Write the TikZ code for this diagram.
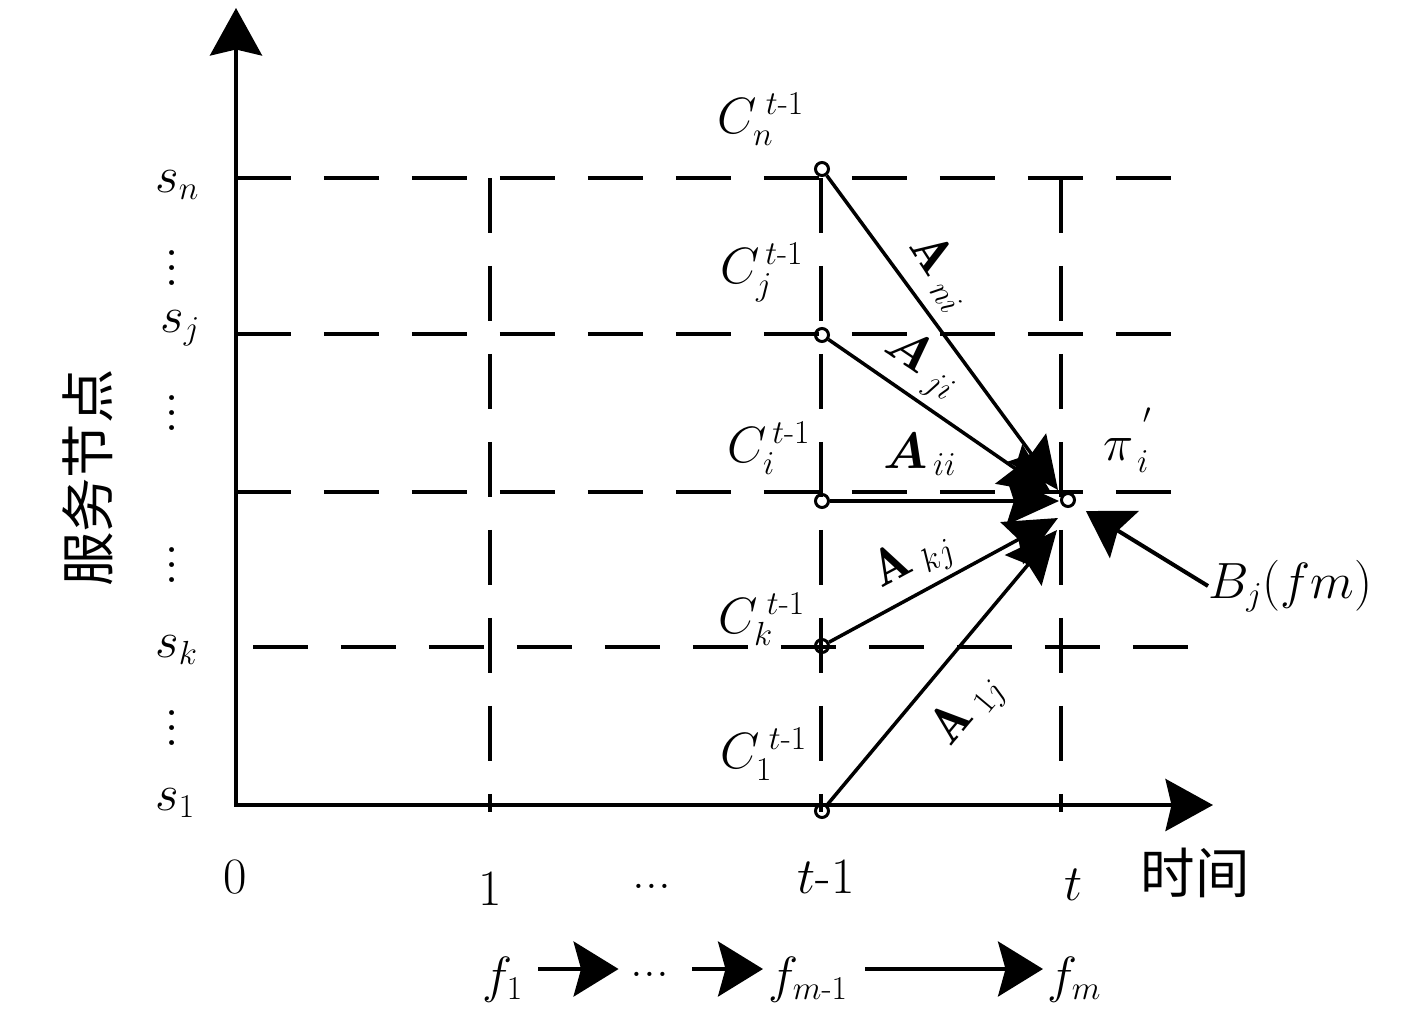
\RequirePackage{fix-cm}
\documentclass[tikz,border=0pt]{standalone}
\usepackage{amsmath,bm}
\usepackage{fontspec}
\newfontfamily\cjk{Noto Sans CJK SC}
\usetikzlibrary{arrows.meta}
\DeclareMathSizes{29}{29}{19}{16}
\tikzset{
  dsh/.style={line width=0.08cm, dash pattern=on 1.1cm off 0.66cm},
  axisarrow/.style={line width=0.08cm, {Stealth[length=0.95cm,width=1.04cm,inset=0.12cm]}-{Stealth[length=0.95cm,width=1.04cm,inset=0.12cm]}},
  conv/.style={line width=0.07cm, -{Stealth[length=1.05cm,width=0.95cm,inset=0.15cm]}},
  barrow/.style={line width=0.08cm, -{Stealth[length=0.9cm,width=1.1cm,inset=0.15cm]}},
  pt/.style={circle, draw, line width=0.06cm, inner sep=0pt, minimum size=0.26cm},
  lbl/.style={inner sep=0pt},
  vdotlbl/.style={inner sep=0pt, rotate=90, font=\fontsize{34}{38}\selectfont},
  cjklbl/.style={inner sep=0pt, font=\fontsize{31}{36}\selectfont\cjk},
}
\begin{document}
\begin{tikzpicture}[x=0.02cm, y=-0.02cm, font=\fontsize{29}{34}\selectfont]
\useasboundingbox (0,0) rectangle (1417,1009);
% grid
\draw[dsh] (236,178) -- (1172,178);
\draw[dsh] (236,334) -- (1172,334);
\draw[dsh] (236,492) -- (1172,492);
\draw[dsh] (253,647) -- (1190,647);
\draw[dsh] (490,178) -- (490,812);
\draw[dsh] (821,178) -- (821,812);
\draw[dsh] (1061,178) -- (1061,812);
% axes
\draw[axisarrow] (236,8) -- (236,805) -- (1213,805);
% points
\node[pt] (cN) at (822,169) {};
\node[pt] (cJ) at (822,335) {};
\node[pt] (cI) at (822,501) {};
\node[pt] (cK) at (822,646) {};
\node[pt] (c1) at (822,811) {};
\node[pt] (pi) at (1068,500) {};
\coordinate (tN) at (1058,490);
\coordinate (tJ) at (1052,494);
\coordinate (tI) at (1059,501);
\coordinate (tK) at (1058,518);
\coordinate (t1) at (1057,530);
\draw[conv] (cN) -- (tN);
\draw[conv] (cJ) -- (tJ);
\draw[conv] (cI) -- (tI);
\draw[conv] (cK) -- (tK);
\draw[conv] (c1) -- (t1);
% C labels
\node[lbl, anchor=base west] (lCN) at (717,133) {$C_{n}^{\;t\text{-}1}$};
\node[lbl, anchor=base west] (lCJ) at (720,283) {$C_{j}^{\,t\text{-}1}$};
\node[lbl, anchor=base west] (lCI) at (727,462) {$C_{i}^{\,t\text{-}1}$};
\node[lbl, anchor=base west] (lCK) at (718,633) {$C_{k}^{\;t\text{-}1}$};
\node[lbl, anchor=base west] (lC1) at (720,768) {$C_{1}^{\;t\text{-}1}$};
% A labels
\node[lbl, rotate=-57] (lAn) at (942,272) {$\mathbf{A}_{\;ni}$};
\node[lbl, rotate=-34] (lAj) at (922,365) {$\bm{A}_{\;ji}$};
\node[lbl, anchor=base west] (lAi) at (883,468) {$\bm{A}_{\,ii}$};
\node[lbl, rotate=28] (lAk) at (913,560) {$\mathbf{A}_{\;kj}$};
\node[lbl, rotate=50] (lA1) at (968,710) {$\mathbf{A}_{\;1j}$};
% pi and B
\node[lbl, anchor=base west] (lpi) at (1103,460) {$\pi_{\,i}^{\;\raisebox{0.35em}{$\scriptscriptstyle\prime$}}$};
\node[lbl, anchor=base west] (Bj) at (1208,598) {$B_j(fm)$};
\draw[barrow, shorten >=0.26cm] (Bj.west) -- (pi);
% y labels
\node[lbl, anchor=base west] (ysn) at (155,192) {$s_n$};
\node[lbl, anchor=base west] (ysj) at (160,332) {$s_j$};
\node[lbl, anchor=base west] (ysk) at (155,657) {$s_k$};
\node[lbl, anchor=base west] (ys1) at (155,810) {$s_1$};
\node[vdotlbl] (vd1) at (172,268) {...};
\node[vdotlbl] (vd2) at (172,413) {...};
\node[vdotlbl] (vd3) at (172,565) {...};
\node[vdotlbl] (vd4) at (172,728) {...};
\node[cjklbl, rotate=90] (ylab) at (88,478) {服务节点};
% x labels
\node[lbl, anchor=base] (x0) at (235,893) {0};
\node[lbl, anchor=base] (x1) at (490,905) {1};
\node[lbl, anchor=base] (xd) at (652,888) {...};
\node[lbl, anchor=base] (xt1) at (826,893) {$t$-1};
\node[lbl, anchor=base] (xt) at (1073,900) {$t$};
\node[cjklbl] (xlab) at (1195,873) {时间};
% bottom row
\node[lbl, anchor=base west] (f1) at (482,992) {$f_{1}$};
\node[lbl, anchor=base] (bd) at (650,976) {...};
\node[lbl, anchor=base west] (fm1) at (768,992) {$f_{m\text{-}1}$};
\node[lbl, anchor=base west] (fm) at (1047,992) {$f_{m}$};
\coordinate (barline) at (0,969);
\draw[barrow, shorten <=0.3cm, shorten >=0.24cm] (f1.east |- barline) -- (bd.west |- barline);
\draw[barrow, shorten <=0.46cm, shorten >=0.1cm] (bd.east |- barline) -- (fm1.west |- barline);
\draw[barrow, shorten <=0.34cm, shorten >=0.08cm] (fm1.east |- barline) -- (fm.west |- barline);
\end{tikzpicture}
\end{document}
